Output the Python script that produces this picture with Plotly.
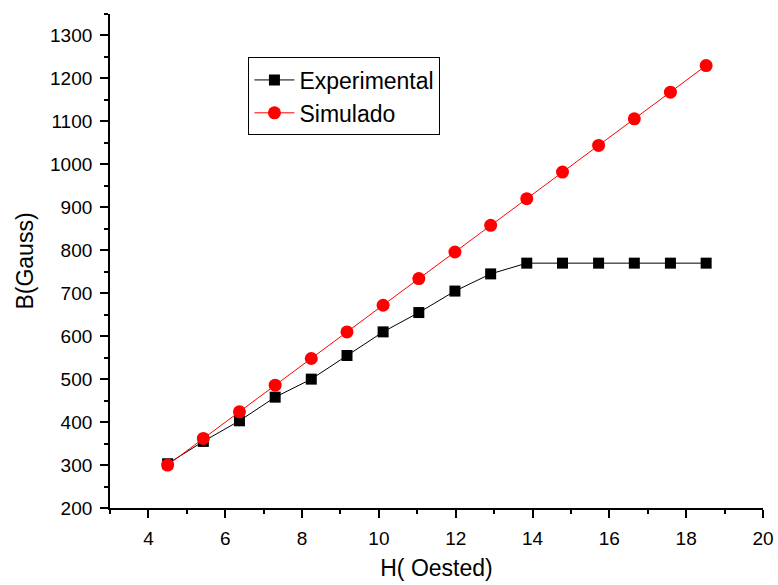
import plotly.graph_objects as go

h_oested = [4.50, 5.43, 6.37, 7.30, 8.24, 9.17, 10.11, 11.04, 11.98, 12.91,
            13.85, 14.78, 15.72, 16.65, 17.59, 18.52]
b_experimental = [303, 355, 403, 458, 500, 555, 610, 655, 705, 745,
                  770, 770, 770, 770, 770, 770]
b_simulado = [300, 362, 424, 486, 548, 610, 672, 734, 796, 858,
              920, 982, 1044, 1106, 1168, 1230]

font = "Liberation Sans, Arial, sans-serif"

fig = go.Figure()
fig.add_trace(go.Scatter(
    x=h_oested, y=b_experimental, name="Experimental", mode="lines+markers",
    line=dict(color="black", width=1),
    marker=dict(symbol="square", size=11, color="black"),
))
fig.add_trace(go.Scatter(
    x=h_oested, y=b_simulado, name="Simulado", mode="lines+markers",
    line=dict(color="#ff0000", width=1),
    marker=dict(symbol="circle", size=13, color="#ff0000"),
))

axis_common = dict(
    showline=True, linecolor="black", linewidth=1.8, mirror=False,
    ticks="outside", ticklen=8, tickwidth=1.8, tickcolor="black",
    showgrid=False, zeroline=False, ticklabelstandoff=4, automargin=False,
    tickfont=dict(family=font, size=19, color="black"),
)

fig.update_xaxes(
    range=[3, 20], tickvals=[4, 6, 8, 10, 12, 14, 16, 18, 20],
    minor=dict(tickvals=[3, 5, 7, 9, 11, 13, 15, 17, 19], ticks="outside",
               ticklen=4, tickwidth=1.8, tickcolor="black"),
    title=dict(text="H( Oested)", font=dict(family=font, size=23, color="black"),
               standoff=12),
    **axis_common,
)
fig.update_yaxes(
    range=[200, 1350], tickvals=list(range(200, 1301, 100)),
    minor=dict(tickvals=list(range(250, 1351, 100)), ticks="outside",
               ticklen=4, tickwidth=1.8, tickcolor="black"),
    title=dict(text="B(Gauss)", font=dict(family=font, size=23, color="black"),
               standoff=10),
    **axis_common,
)

fig.update_layout(
    width=778, height=585,
    margin=dict(l=110, r=15, t=14, b=77),
    plot_bgcolor="white", paper_bgcolor="white",
    font=dict(family=font, color="black"),
    legend=dict(
        x=0.212, y=0.912, xanchor="left", yanchor="top",
        bordercolor="black", borderwidth=1, bgcolor="white",
        font=dict(family=font, size=23, color="black"),
        tracegroupgap=0, itemwidth=40,
    ),
)

fig.write_html("out.html")
